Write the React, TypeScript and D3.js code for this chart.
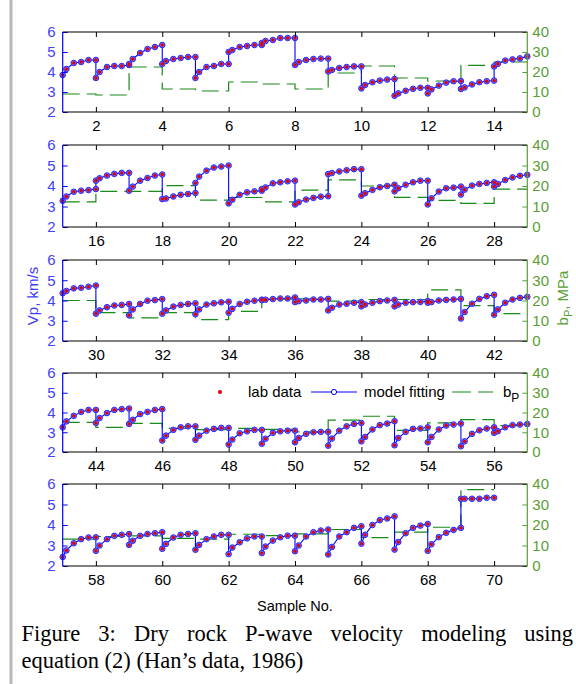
import React, { useRef, useEffect } from 'react';
import * as d3 from 'd3';

// pressure steps (MPa); every sample spans one unit of the x axis
const pressures = [5, 10, 20, 30, 40, 50];

// dry rock Vp (km/s), one row per sample 1..69
const vp = [
  [3.85, 4.15, 4.45, 4.5, 4.6, 4.6],
  [3.7, 4.0, 4.25, 4.3, 4.3, 4.35],
  [4.4, 4.65, 4.95, 5.15, 5.25, 5.35],
  [4.4, 4.55, 4.65, 4.7, 4.75, 4.75],
  [3.7, 4.0, 4.25, 4.3, 4.4, 4.4],
  [5.0, 5.1, 5.25, 5.3, 5.35, 5.35],
  [5.45, 5.55, 5.6, 5.7, 5.7, 5.7],
  [4.35, 4.5, 4.6, 4.65, 4.67, 4.67],
  [4.03, 4.1, 4.2, 4.25, 4.28, 4.28],
  [3.18, 3.35, 3.49, 3.57, 3.62, 3.65],
  [2.81, 2.93, 3.06, 3.16, 3.21, 3.21],
  [2.93, 3.13, 3.32, 3.47, 3.54, 3.55],
  [3.15, 3.23, 3.38, 3.49, 3.54, 3.57],
  [4.28, 4.41, 4.57, 4.63, 4.68, 4.78],
  [3.28, 3.49, 3.72, 3.77, 3.8, 3.85],
  [4.26, 4.38, 4.51, 4.59, 4.64, 4.64],
  [3.77, 3.97, 4.26, 4.39, 4.51, 4.56],
  [3.36, 3.39, 3.49, 3.57, 3.61, 3.66],
  [4.15, 4.46, 4.75, 4.9, 4.95, 5.0],
  [3.15, 3.33, 3.57, 3.69, 3.74, 3.77],
  [3.85, 3.93, 4.13, 4.18, 4.23, 4.26],
  [3.1, 3.21, 3.34, 3.42, 3.48, 3.5],
  [4.58, 4.63, 4.71, 4.77, 4.82, 4.82],
  [3.53, 3.65, 3.81, 3.94, 4.0, 4.06],
  [3.74, 3.89, 4.06, 4.18, 4.26, 4.26],
  [3.1, 3.4, 3.73, 3.89, 3.92, 3.97],
  [3.58, 3.82, 4.02, 4.1, 4.15, 4.18],
  [3.97, 4.1, 4.29, 4.42, 4.5, 4.55],
  [4.36, 4.47, 4.6, 4.63, 4.68, 4.74],
  [3.35, 3.51, 3.67, 3.75, 3.78, 3.83],
  [3.27, 3.56, 3.83, 3.99, 4.02, 4.07],
  [3.35, 3.51, 3.7, 3.78, 3.83, 3.86],
  [3.32, 3.56, 3.8, 3.86, 3.91, 3.94],
  [3.4, 3.59, 3.83, 3.94, 3.99, 4.04],
  [4.02, 4.04, 4.07, 4.1, 4.1, 4.15],
  [3.92, 3.97, 4.0, 4.05, 4.05, 4.08],
  [3.51, 3.64, 3.8, 3.84, 3.89, 3.92],
  [3.71, 3.8, 3.89, 3.97, 4.0, 4.03],
  [3.71, 3.8, 3.89, 3.92, 3.93, 3.97],
  [3.89, 3.92, 4.0, 4.03, 4.05, 4.08],
  [3.11, 3.43, 3.84, 4.08, 4.21, 4.28],
  [3.3, 3.56, 3.89, 4.05, 4.13, 4.18],
  [3.25, 3.55, 3.83, 4.03, 4.13, 4.13],
  [3.47, 3.72, 3.97, 4.13, 4.17, 4.2],
  [3.42, 3.63, 3.92, 4.03, 4.13, 4.17],
  [2.58, 2.83, 3.12, 3.25, 3.3, 3.3],
  [2.62, 2.83, 3.08, 3.17, 3.22, 3.22],
  [2.38, 2.63, 2.95, 3.05, 3.12, 3.12],
  [2.42, 2.67, 2.97, 3.05, 3.08, 3.08],
  [2.49, 2.71, 2.92, 3.0, 3.02, 3.02],
  [2.32, 2.68, 3.08, 3.3, 3.42, 3.47],
  [2.54, 2.76, 3.14, 3.36, 3.44, 3.56],
  [2.34, 2.71, 3.02, 3.17, 3.19, 3.25],
  [2.49, 2.76, 3.14, 3.34, 3.39, 3.44],
  [2.29, 2.54, 2.92, 3.1, 3.19, 3.25],
  [2.97, 3.05, 3.25, 3.36, 3.39, 3.42],
  [2.44, 2.76, 3.11, 3.31, 3.39, 3.4],
  [2.74, 3.0, 3.31, 3.47, 3.52, 3.56],
  [3.03, 3.23, 3.47, 3.56, 3.6, 3.65],
  [2.84, 3.08, 3.39, 3.52, 3.56, 3.6],
  [2.79, 3.03, 3.31, 3.44, 3.52, 3.52],
  [2.58, 2.9, 3.16, 3.35, 3.44, 3.44],
  [2.63, 2.95, 3.24, 3.4, 3.48, 3.48],
  [2.72, 3.0, 3.44, 3.65, 3.73, 3.78],
  [2.56, 2.93, 3.44, 3.65, 3.86, 3.94],
  [3.09, 3.52, 4.0, 4.24, 4.32, 4.42],
  [2.8, 3.17, 3.6, 3.86, 3.97, 4.05],
  [2.74, 3.06, 3.41, 3.62, 3.76, 3.86],
  [5.28, 5.28, 5.28, 5.28, 5.33, 5.33],
];

// fitted b_P (MPa), one per sample
const bp = [
  9, 8.5, 22.5, 11.5, 10.5, 15, 14, 11.5, 19.5, 23, 17, 15.5, 23.3, 25,
  12.3, 17.4, 17.4, 20.2, 13.1, 14.4, 12.3, 18, 23, 20, 14.5, 13, 11.5, 18.5,
  20, 14, 11.4, 14, 10.6, 14.6, 20.7, 20.8, 19.7, 20.5, 20.5, 25.2, 17.5, 13.5,
  15, 12.5, 14.5, 12, 11.3, 12, 11.5, 10.2, 16.1, 18.1, 11, 14.7, 16.4, 13.4,
  13.1, 14.4, 14.7, 13.5, 13.1, 15.5, 14.8, 15.7, 17.8, 13.8, 16.5, 18.9, 37.3,
];

const panelFirst = [1, 15, 29, 43, 57];
const vpTicks = [2, 3, 4, 5, 6];
const bpTicks = [0, 10, 20, 30, 40];

const W = 576;
const H = 684;
const LEFT = 62.7;
const RIGHT = 527.3;
const BOX = [[32, 112], [145, 227], [260, 341], [373, 452], [484, 566]];

const BLUE = '#0000ff';
const BLUE_TXT = '#4141ff';
const GREEN = '#178a17';
const GREEN_AX = '#5a9e36';
const RED = '#e00000';
const SANS = 'Arial, "Liberation Sans", sans-serif';
const SERIF = '"Times New Roman", "Liberation Serif", serif';

const App = () => {
  const svgRef = useRef<SVGSVGElement>(null);

  useEffect(() => {
    const svg = d3.select(svgRef.current);
    svg.selectAll('*').remove();
    svg.append('rect').attr('width', W).attr('height', H).attr('fill', '#fff');
    svg.append('line')
      .attr('x1', 11).attr('x2', 11).attr('y1', 0).attr('y2', H)
      .attr('stroke', '#b8b8b8').attr('stroke-width', 3);

    const last = pressures[pressures.length - 1];

    panelFirst.forEach((s0, i) => {
      const [top, bottom] = BOX[i];
      const x = d3.scaleLinear().domain([s0, s0 + 14]).range([LEFT, RIGHT]);
      const yL = d3.scaleLinear().domain([2, 6]).range([bottom, top]);
      const yR = d3.scaleLinear().domain([0, 40]).range([bottom, top]);
      const samples = d3.range(s0, s0 + 14).filter(s => s <= vp.length);

      const plot = svg.append('g');

      // b_P as a dashed step line
      const steps: [number, number][] = samples.map(s => [s, bp[s - 1]]);
      const sLast = samples[samples.length - 1];
      steps.push([sLast + 1, bp[sLast - 1]]);
      plot.append('path')
        .attr('d', d3.line<[number, number]>().x(d => x(d[0])).y(d => yR(d[1])).curve(d3.curveStepAfter)(steps))
        .attr('fill', 'none')
        .attr('stroke', GREEN)
        .attr('stroke-width', 1.2)
        .attr('stroke-dasharray', '17,7');

      // model fitting + lab data
      const pts: [number, number][] = samples.flatMap(s =>
        vp[s - 1].map((v, k) => [s + (pressures[k] - pressures[0]) / (last - pressures[0]), v] as [number, number]));
      plot.append('path')
        .attr('d', d3.line<[number, number]>().x(d => x(d[0])).y(d => yL(d[1]))(pts))
        .attr('fill', 'none')
        .attr('stroke', BLUE)
        .attr('stroke-width', 1.1);
      plot.selectAll('circle.model')
        .data(pts)
        .join('circle')
          .attr('class', 'model')
          .attr('cx', d => x(d[0]))
          .attr('cy', d => yL(d[1]))
          .attr('r', 2.8)
          .attr('fill', '#7a6cf0')
          .attr('stroke', '#2a2aff')
          .attr('stroke-width', 1);
      plot.selectAll('circle.lab')
        .data(pts)
        .join('circle')
          .attr('class', 'lab')
          .attr('cx', d => x(d[0]))
          .attr('cy', d => yL(d[1]))
          .attr('r', 1.7)
          .attr('fill', RED);

      // axes
      const xt = d3.range(s0 + 1, s0 + 14, 2);
      const gb = svg.append('g').attr('transform', `translate(0,${bottom})`)
        .call(d3.axisBottom(x).tickValues(xt).tickSize(-5).tickPadding(8).tickFormat(d3.format('d')));
      const gt = svg.append('g').attr('transform', `translate(0,${top})`)
        .call(d3.axisTop(x).tickValues(xt).tickSize(-5).tickFormat(() => ''));
      const gl = svg.append('g').attr('transform', `translate(${LEFT},0)`)
        .call(d3.axisLeft(yL).tickValues(vpTicks).tickSize(-5).tickPadding(7).tickFormat(d3.format('d')));
      const gr = svg.append('g').attr('transform', `translate(${RIGHT},0)`)
        .call(d3.axisRight(yR).tickValues(bpTicks).tickSize(-5).tickPadding(5).tickFormat(d3.format('d')));
      [gb, gt, gl, gr].forEach(g => {
        g.select('.domain').remove();
        g.selectAll('text').attr('font-family', SANS).attr('font-size', 15);
      });
      gb.selectAll('line').attr('stroke', '#000');
      gt.selectAll('line').attr('stroke', '#000');
      gb.selectAll('text').attr('fill', '#000');
      gl.selectAll('line').attr('stroke', BLUE);
      gl.selectAll('text').attr('fill', BLUE_TXT);
      gr.selectAll('line').attr('stroke', GREEN_AX);
      gr.selectAll('text').attr('fill', GREEN_AX);

      const box = svg.append('g').attr('stroke-width', 1.2);
      box.append('line').attr('x1', LEFT).attr('x2', RIGHT).attr('y1', top).attr('y2', top).attr('stroke', '#000');
      box.append('line').attr('x1', LEFT).attr('x2', RIGHT).attr('y1', bottom).attr('y2', bottom).attr('stroke', '#000');
      box.append('line').attr('x1', LEFT).attr('x2', LEFT).attr('y1', top).attr('y2', bottom).attr('stroke', BLUE);
      box.append('line').attr('x1', RIGHT).attr('x2', RIGHT).attr('y1', top).attr('y2', bottom).attr('stroke', GREEN_AX);
    });

    // axis titles
    svg.append('text')
      .attr('transform', 'translate(38,296) rotate(-90)')
      .attr('text-anchor', 'middle')
      .attr('font-family', SANS).attr('font-size', 15)
      .attr('fill', BLUE_TXT)
      .text('Vp, km/s');
    const rt = svg.append('text')
      .attr('transform', 'translate(568,298) rotate(-90)')
      .attr('text-anchor', 'middle')
      .attr('font-family', SANS).attr('font-size', 15)
      .attr('fill', GREEN_AX);
    rt.append('tspan').text('b');
    rt.append('tspan').attr('font-size', 11).attr('dy', 4).text('P');
    rt.append('tspan').attr('dy', -4).text(', MPa');
    svg.append('text')
      .attr('x', (LEFT + RIGHT) / 2).attr('y', 611)
      .attr('text-anchor', 'middle')
      .attr('font-family', SANS).attr('font-size', 14.5)
      .attr('fill', '#000')
      .text('Sample No.');

    // legend
    const lg = svg.append('g').attr('font-family', SANS).attr('font-size', 15).attr('fill', '#000');
    lg.append('circle').attr('cx', 220).attr('cy', 392).attr('r', 2).attr('fill', RED);
    lg.append('text').attr('x', 248).attr('y', 397).text('lab data');
    lg.append('line').attr('x1', 311).attr('x2', 357).attr('y1', 392).attr('y2', 392).attr('stroke', BLUE);
    lg.append('circle').attr('cx', 334).attr('cy', 392).attr('r', 2.6).attr('fill', '#fff').attr('stroke', BLUE);
    lg.append('text').attr('x', 364).attr('y', 397).text('model fitting');
    lg.append('line').attr('x1', 452).attr('x2', 493).attr('y1', 392).attr('y2', 392)
      .attr('stroke', GREEN).attr('stroke-width', 1.2).attr('stroke-dasharray', '19,7');
    const lb = lg.append('text').attr('x', 503).attr('y', 397);
    lb.append('tspan').text('b');
    lb.append('tspan').attr('font-size', 12).attr('dy', 5).text('P');

    // caption, first line justified
    const cap = svg.append('g').attr('font-family', SERIF).attr('font-size', 22.5).attr('fill', '#000');
    const words = 'Figure 3: Dry rock P-wave velocity modeling using'.split(' ');
    const nodes = words.map(w => cap.append('text').attr('y', 641).text(w));
    const widths = nodes.map(n => (n.node() as SVGTextElement).getComputedTextLength());
    const x0 = 21.5;
    const x1 = 573;
    const gap = (x1 - x0 - d3.sum(widths)) / (words.length - 1);
    let cx = x0;
    nodes.forEach((n, j) => {
      n.attr('x', cx);
      cx += widths[j] + gap;
    });
    cap.append('text').attr('x', x0).attr('y', 668).text('equation (2) (Han\u2019s data, 1986)');
  }, []);

  return (
    <svg
      ref={svgRef}
      width={W}
      height={H}
      style={{ position: 'absolute', left: 0, top: 0, display: 'block' }}
    />
  );
};

export default App;
